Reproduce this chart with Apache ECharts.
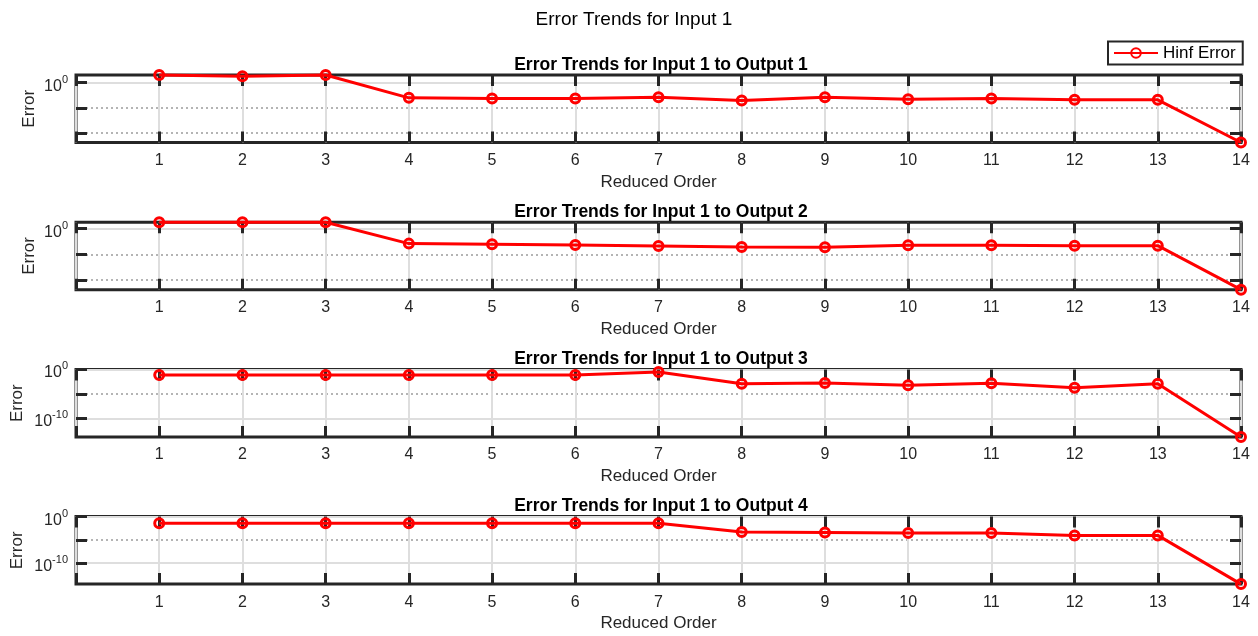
<!DOCTYPE html>
<html><head><meta charset="utf-8">
<script src="https://cdn.jsdelivr.net/npm/echarts@6/dist/echarts.min.js"></script>
<style>html,body{margin:0;padding:0;background:#fff}#c{width:1258px;height:636px}</style>
</head><body><div id="c"></div>
<script>
// ---- data ----
const orders = [1, 2, 3, 4, 5, 6, 7, 8, 9, 10, 11, 12, 13, 14];
const mainTitle = 'Error Trends for Input 1';
const subplotTitles = [
  'Error Trends for Input 1 to Output 1',
  'Error Trends for Input 1 to Output 2',
  'Error Trends for Input 1 to Output 3',
  'Error Trends for Input 1 to Output 4'
];
const seriesName = 'Hinf Error';
const xLabel = 'Reduced Order';
const yLabel = 'Error';
const err1 = [1.1e3, 3.3e2, 1.05e3, 1.0e-6, 5.2e-7, 5.0e-7, 1.7e-6, 8.3e-8, 1.7e-6, 2.8e-7, 5.2e-7, 1.6e-7, 1.6e-7, 2e-24];
const err2 = [3.55e2, 3.55e2, 3.55e2, 1.6e-6, 8.5e-7, 4.2e-7, 1.9e-7, 7.6e-8, 5.9e-8, 3.5e-7, 3.5e-7, 2.6e-7, 2.6e-7, 1.8e-24];
const err3 = [0.07, 0.07, 0.07, 0.07, 0.07, 0.07, 0.3, 1.2e-3, 1.7e-3, 6e-4, 1.4e-3, 1.8e-4, 1.2e-3, 1.6e-14];
const err4 = [0.035, 0.035, 0.035, 0.035, 0.035, 0.035, 0.035, 5e-4, 4e-4, 3e-4, 3e-4, 9e-5, 9e-5, 3e-15];
const majorTicks1 = [1], minorTicks1 = [1e-20, 1e-10];
const majorTicks2 = [1], minorTicks2 = [1e-20, 1e-10];
const majorTicks3 = [1e-10, 1], minorTicks3 = [1e-5];
const majorTicks4 = [1e-10, 1], minorTicks4 = [1e-5];
const yUpper = [null, null, 1, 1];
const xTicks = [0, 14, 1]; // min, max, step

// ---- chart ----
const errs = [err1, err2, err3, err4];
const majors = [majorTicks1, majorTicks2, majorTicks3, majorTicks4];
const minors = [minorTicks1, minorTicks2, minorTicks3, minorTicks4];
const FONT = "'Liberation Sans', Arial, Helvetica, sans-serif";
const DARK = '#262626';
const gridTop0 = 75, gridStep = 147.2, gridH = 67.5;

const grids = [], xAxes = [], yAxes = [], series = [];
const titles = [{
  text: mainTitle, left: 629, top: 5, textAlign: 'center',
  textStyle: { fontFamily: FONT, fontSize: 19, fontWeight: 'normal', color: '#000' }
}];

const tickStyle = { show: true, inside: true, length: 11, lineStyle: { color: DARK, width: 3 } };
const nameStyle = { fontFamily: FONT, fontSize: 17, color: DARK };

errs.forEach((e, i) => {
  const top = gridTop0 + i * gridStep;
  grids.push({ left: 76, right: 17, top: top, height: gridH, show: true,
    borderColor: DARK, borderWidth: 3, backgroundColor: 'transparent' });
  titles.push({ text: subplotTitles[i], left: 656, top: top - 24, textAlign: 'center',
    textStyle: { fontFamily: FONT, fontSize: 17.5, fontWeight: 'bold', color: '#000', lineHeight: 18 } });

  xAxes.push({ type: 'value', gridIndex: i, min: xTicks[0], max: xTicks[1], interval: xTicks[2], position: 'bottom',
    axisLine: { show: false, onZero: false }, axisTick: tickStyle,
    axisLabel: { formatter: v => (v === 0 ? '' : String(v)), margin: 10, fontSize: 16, color: DARK, fontFamily: FONT },
    splitLine: { show: true, lineStyle: { color: '#dedede', width: 2 } },
    name: xLabel, nameLocation: 'middle', nameGap: 31, nameTextStyle: nameStyle });
  xAxes.push({ type: 'value', gridIndex: i, min: xTicks[0], max: xTicks[1], interval: xTicks[2], position: 'top',
    axisLine: { show: false, onZero: false }, axisTick: tickStyle,
    axisLabel: { show: false }, splitLine: { show: false } });

  const lo = Math.min(...e);
  const hi = yUpper[i] != null ? yUpper[i] : Math.max(...e);
  const base = { type: 'log', logBase: 10, gridIndex: i, min: lo, max: hi, axisLine: { show: false, onZero: false } };
  yAxes.push(Object.assign({}, base, {
    position: 'left',
    axisTick: Object.assign({}, tickStyle, { customValues: majors[i] }),
    axisLabel: { customValues: majors[i], margin: 8,
      formatter: v => '{b|10}{s|' + Math.round(Math.log10(v)) + '}',
      rich: {
        b: { fontSize: 16, fontFamily: FONT, color: DARK, verticalAlign: 'bottom', lineHeight: 23 },
        s: { fontSize: 11, fontFamily: FONT, color: DARK, verticalAlign: 'top', lineHeight: 23, padding: [3, 0, 0, 0] }
      } },
    splitLine: { show: true, lineStyle: { color: '#dedede', width: 2 } },
    name: yLabel, nameLocation: 'middle', nameRotate: 90, nameMoveOverlap: false,
    nameGap: majors[i].length > 1 ? 50 : 38, nameTextStyle: nameStyle
  }));
  yAxes.push(Object.assign({}, base, {
    position: 'left',
    axisTick: Object.assign({}, tickStyle, { customValues: minors[i] }),
    axisLabel: { show: false },
    splitLine: { show: true, lineStyle: { color: '#b4b4b4', width: 2, type: [2, 3] } }
  }));
  yAxes.push(Object.assign({}, base, {
    position: 'right',
    axisTick: Object.assign({}, tickStyle, { customValues: majors[i].concat(minors[i]) }),
    axisLabel: { show: false }, splitLine: { show: false }
  }));

  series.push({ name: seriesName, type: 'line', xAxisIndex: 2 * i, yAxisIndex: 3 * i,
    data: orders.map((o, k) => [o, e[k]]),
    symbol: 'circle', symbolSize: 9, clip: false, z: 5,
    lineStyle: { color: '#ff0000', width: 3 },
    itemStyle: { color: 'rgba(255,0,0,0)', borderColor: '#ff0000', borderWidth: 3 },
    emphasis: { disabled: true } });
});

const chart = echarts.init(document.getElementById('c'), null, { renderer: 'canvas' });
chart.setOption({
  animation: false,
  backgroundColor: '#fff',
  title: titles,
  legend: { data: [seriesName], left: 1108, top: 41.5, padding: [3, 7, 3, 5], itemWidth: 44, itemHeight: 12,
    borderColor: DARK, borderWidth: 2, borderRadius: 0, backgroundColor: '#fff', selectedMode: false,
    textStyle: { fontSize: 17, color: '#000', fontFamily: FONT } },
  grid: grids, xAxis: xAxes, yAxis: yAxes, series: series
});
</script>
</body></html>
